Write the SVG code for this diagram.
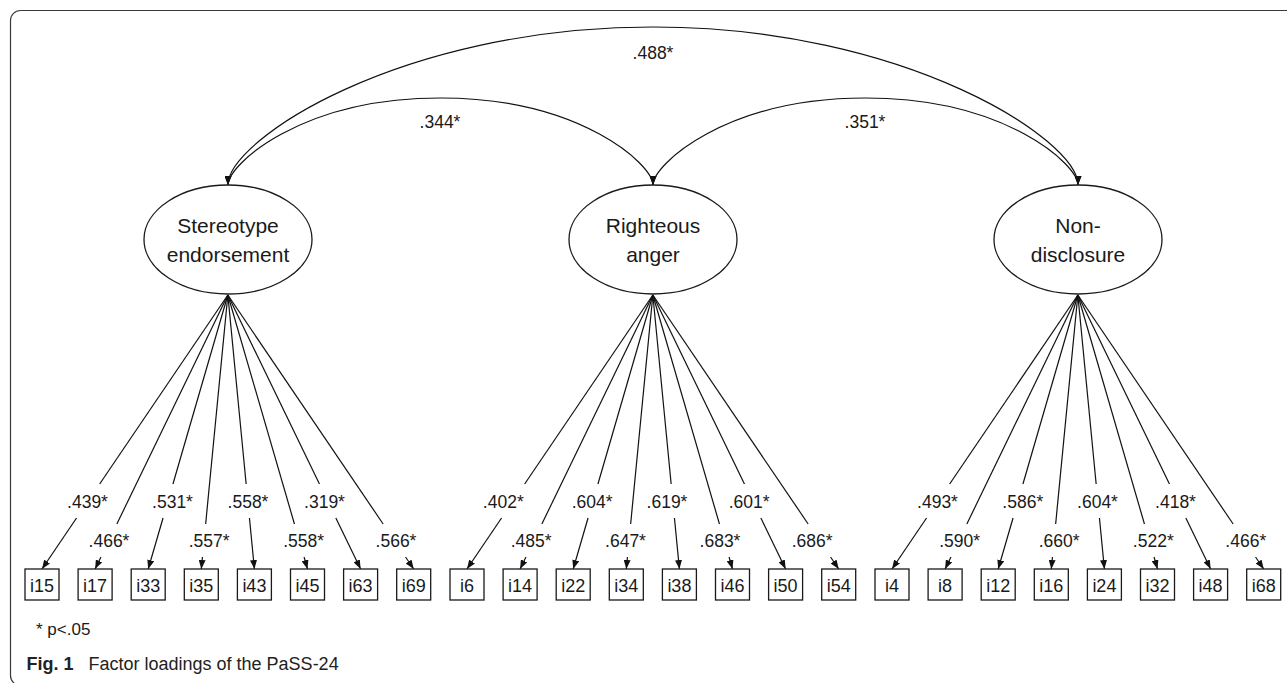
<svg xmlns="http://www.w3.org/2000/svg" width="1287" height="683" viewBox="0 0 1287 683">
<style>
text{font-family:"Liberation Sans",Arial,sans-serif;fill:#1a1a1a}
.lat{font-size:21px;text-anchor:middle}
.box rect{fill:#fff;stroke:#1a1a1a;stroke-width:1.3}
.box text{font-size:18px;text-anchor:middle}
.lbl{font-size:17.5px;text-anchor:middle}
.ln{fill:none;stroke:#111;stroke-width:1.2}
.ar{marker-end:url(#ah)}
.cov{fill:none;stroke:#111;stroke-width:1.2;marker-start:url(#ah);marker-end:url(#ah)}
ellipse{fill:#fff;stroke:#1a1a1a;stroke-width:1.3}
</style>
<defs>
<marker id="ah" viewBox="0 0 9 7" refX="9" refY="3.5" markerWidth="9" markerHeight="7" markerUnits="userSpaceOnUse" orient="auto-start-reverse"><path d="M0,0 L9,3.5 L0,7 z" fill="#111"/></marker>
</defs>
<rect x="10.5" y="10.5" width="1300" height="675" rx="10" fill="none" stroke="#3a3a3a" stroke-width="1.2"/>

<g id="connectors">
<g id="covariances">
<path class="cov" d="M228,185 C228,140 400,27 653,27 C906,27 1078,140 1078,185"/>
<path class="cov" d="M228,185 C228,165 300,98 440.5,98 C581,98 653,165 653,185"/>
<path class="cov" d="M653,185 C653,165 725,98 865.5,98 C1006,98 1078,165 1078,185"/>
</g>
<g id="loadings-SE" transform="translate(227.85,0)">
<path class="ln" d="M0,295 L-128.2,484"/><path class="ln ar" d="M-151.3,518 L-185.85,569"/>
<path class="ln" d="M0,295 L-111,524"/><path class="ln ar" d="M-126.9,557 L-132.75,569"/>
<path class="ln" d="M0,295 L-54.9,484"/><path class="ln ar" d="M-64.8,518 L-79.65,569"/>
<path class="ln" d="M0,295 L-22.2,524"/><path class="ln ar" d="M-25.4,557 L-26.55,569"/>
<path class="ln" d="M0,295 L18.3,484"/><path class="ln ar" d="M21.6,518 L26.55,569"/>
<path class="ln" d="M0,295 L66.6,524"/><path class="ln ar" d="M76.2,557 L79.65,569"/>
<path class="ln" d="M0,295 L91.6,484"/><path class="ln ar" d="M108,518 L132.75,569"/>
<path class="ln" d="M0,295 L155.3,524"/><path class="ln ar" d="M177.7,557 L185.85,569"/>
</g>
<g id="loadings-RA" transform="translate(652.85,0)">
<path class="ln" d="M0,295 L-128.2,484"/><path class="ln ar" d="M-151.3,518 L-185.85,569"/>
<path class="ln" d="M0,295 L-111,524"/><path class="ln ar" d="M-126.9,557 L-132.75,569"/>
<path class="ln" d="M0,295 L-54.9,484"/><path class="ln ar" d="M-64.8,518 L-79.65,569"/>
<path class="ln" d="M0,295 L-22.2,524"/><path class="ln ar" d="M-25.4,557 L-26.55,569"/>
<path class="ln" d="M0,295 L18.3,484"/><path class="ln ar" d="M21.6,518 L26.55,569"/>
<path class="ln" d="M0,295 L66.6,524"/><path class="ln ar" d="M76.2,557 L79.65,569"/>
<path class="ln" d="M0,295 L91.6,484"/><path class="ln ar" d="M108,518 L132.75,569"/>
<path class="ln" d="M0,295 L155.3,524"/><path class="ln ar" d="M177.7,557 L185.85,569"/>
</g>
<g id="loadings-ND" transform="translate(1077.85,0)">
<path class="ln" d="M0,295 L-128.2,484"/><path class="ln ar" d="M-151.3,518 L-185.85,569"/>
<path class="ln" d="M0,295 L-111,524"/><path class="ln ar" d="M-126.9,557 L-132.75,569"/>
<path class="ln" d="M0,295 L-54.9,484"/><path class="ln ar" d="M-64.8,518 L-79.65,569"/>
<path class="ln" d="M0,295 L-22.2,524"/><path class="ln ar" d="M-25.4,557 L-26.55,569"/>
<path class="ln" d="M0,295 L18.3,484"/><path class="ln ar" d="M21.6,518 L26.55,569"/>
<path class="ln" d="M0,295 L66.6,524"/><path class="ln ar" d="M76.2,557 L79.65,569"/>
<path class="ln" d="M0,295 L91.6,484"/><path class="ln ar" d="M108,518 L132.75,569"/>
<path class="ln" d="M0,295 L155.3,524"/><path class="ln ar" d="M177.7,557 L185.85,569"/>
</g>
</g>

<g id="labels">
<text class="lbl" x="653" y="59">.488*</text>
<text class="lbl" x="440" y="128">.344*</text>
<text class="lbl" x="865" y="128">.351*</text>

<text class="lbl" x="87.5" y="508">.439*</text>
<text class="lbl" x="109" y="547">.466*</text>
<text class="lbl" x="172.5" y="508">.531*</text>
<text class="lbl" x="209.2" y="547">.557*</text>
<text class="lbl" x="248" y="508">.558*</text>
<text class="lbl" x="303.7" y="547">.558*</text>
<text class="lbl" x="324.5" y="508">.319*</text>
<text class="lbl" x="396" y="547">.566*</text>

<text class="lbl" x="503.3" y="508">.402*</text>
<text class="lbl" x="531.2" y="547">.485*</text>
<text class="lbl" x="592.2" y="508">.604*</text>
<text class="lbl" x="625.5" y="547">.647*</text>
<text class="lbl" x="667" y="508">.619*</text>
<text class="lbl" x="720" y="547">.683*</text>
<text class="lbl" x="749.2" y="508">.601*</text>
<text class="lbl" x="812.2" y="547">.686*</text>

<text class="lbl" x="937.5" y="508">.493*</text>
<text class="lbl" x="959.7" y="547">.590*</text>
<text class="lbl" x="1022.8" y="508">.586*</text>
<text class="lbl" x="1059.2" y="547">.660*</text>
<text class="lbl" x="1097.5" y="508">.604*</text>
<text class="lbl" x="1153.3" y="547">.522*</text>
<text class="lbl" x="1175.5" y="508">.418*</text>
<text class="lbl" x="1245.8" y="547">.466*</text>
</g>

<g id="SE"><ellipse cx="228" cy="239.5" rx="84" ry="54.5"/><text class="lat" x="228" y="233">Stereotype</text><text class="lat" x="228" y="262">endorsement</text></g>
<g id="RA"><ellipse cx="653" cy="239.5" rx="84" ry="54.5"/><text class="lat" x="653" y="233">Righteous</text><text class="lat" x="653" y="262">anger</text></g>
<g id="ND"><ellipse cx="1078" cy="239.5" rx="84" ry="54.5"/><text class="lat" x="1078" y="233">Non-</text><text class="lat" x="1078" y="262">disclosure</text></g>

<g id="i15" class="box"><rect x="25" y="569" width="34" height="31"/><text x="42" y="592">i15</text></g>
<g id="i17" class="box"><rect x="78.1" y="569" width="34" height="31"/><text x="95.1" y="592">i17</text></g>
<g id="i33" class="box"><rect x="131.2" y="569" width="34" height="31"/><text x="148.2" y="592">i33</text></g>
<g id="i35" class="box"><rect x="184.3" y="569" width="34" height="31"/><text x="201.3" y="592">i35</text></g>
<g id="i43" class="box"><rect x="237.4" y="569" width="34" height="31"/><text x="254.4" y="592">i43</text></g>
<g id="i45" class="box"><rect x="290.5" y="569" width="34" height="31"/><text x="307.5" y="592">i45</text></g>
<g id="i63" class="box"><rect x="343.6" y="569" width="34" height="31"/><text x="360.6" y="592">i63</text></g>
<g id="i69" class="box"><rect x="396.7" y="569" width="34" height="31"/><text x="413.7" y="592">i69</text></g>

<g id="i6" class="box"><rect x="450" y="569" width="34" height="31"/><text x="467" y="592">i6</text></g>
<g id="i14" class="box"><rect x="503.1" y="569" width="34" height="31"/><text x="520.1" y="592">i14</text></g>
<g id="i22" class="box"><rect x="556.2" y="569" width="34" height="31"/><text x="573.2" y="592">i22</text></g>
<g id="i34" class="box"><rect x="609.3" y="569" width="34" height="31"/><text x="626.3" y="592">i34</text></g>
<g id="i38" class="box"><rect x="662.4" y="569" width="34" height="31"/><text x="679.4" y="592">i38</text></g>
<g id="i46" class="box"><rect x="715.5" y="569" width="34" height="31"/><text x="732.5" y="592">i46</text></g>
<g id="i50" class="box"><rect x="768.6" y="569" width="34" height="31"/><text x="785.6" y="592">i50</text></g>
<g id="i54" class="box"><rect x="821.7" y="569" width="34" height="31"/><text x="838.7" y="592">i54</text></g>

<g id="i4" class="box"><rect x="875" y="569" width="34" height="31"/><text x="892" y="592">i4</text></g>
<g id="i8" class="box"><rect x="928.1" y="569" width="34" height="31"/><text x="945.1" y="592">i8</text></g>
<g id="i12" class="box"><rect x="981.2" y="569" width="34" height="31"/><text x="998.2" y="592">i12</text></g>
<g id="i16" class="box"><rect x="1034.3" y="569" width="34" height="31"/><text x="1051.3" y="592">i16</text></g>
<g id="i24" class="box"><rect x="1087.4" y="569" width="34" height="31"/><text x="1104.4" y="592">i24</text></g>
<g id="i32" class="box"><rect x="1140.5" y="569" width="34" height="31"/><text x="1157.5" y="592">i32</text></g>
<g id="i48" class="box"><rect x="1193.6" y="569" width="34" height="31"/><text x="1210.6" y="592">i48</text></g>
<g id="i68" class="box"><rect x="1246.7" y="569" width="34" height="31"/><text x="1263.7" y="592">i68</text></g>

<text x="36" y="635" style="font-size:17px">* p&lt;.05</text>
<text x="26.5" y="670" style="font-size:18px;fill:#222"><tspan font-weight="bold">Fig. 1</tspan><tspan x="88.5">Factor loadings of the PaSS-24</tspan></text>
</svg>
